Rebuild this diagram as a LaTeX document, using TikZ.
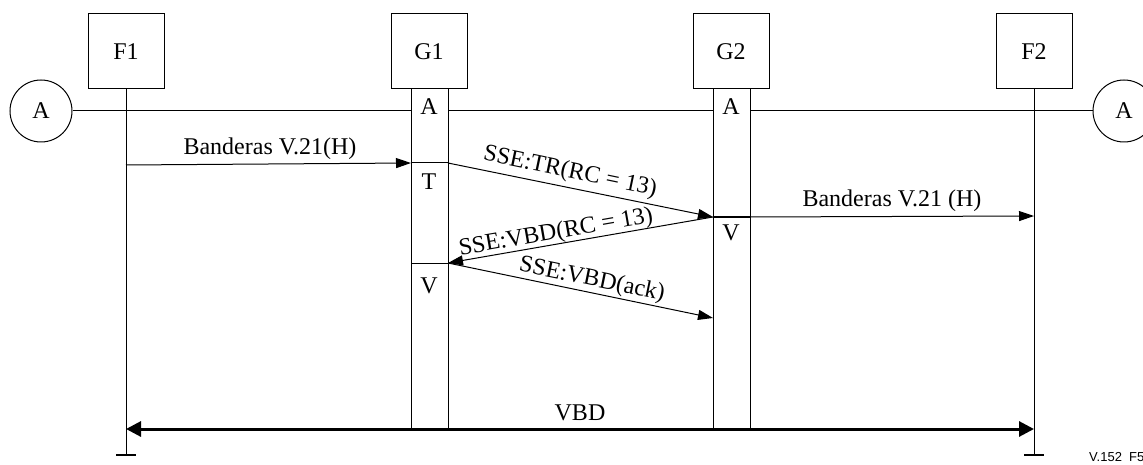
\documentclass[tikz,border=0pt]{standalone}
\usepackage{fontspec}
\setmainfont{Liberation Serif}
\newfontfamily\labsans{Liberation Sans}
\usetikzlibrary{arrows.meta}
\tikzset{
  ent/.style={draw,line width=1pt,minimum width=76pt,minimum height=75pt,inner sep=0pt},
  conn/.style={draw,circle,line width=1pt,minimum size=62pt,inner sep=0pt},
  col/.style={draw,line width=1pt},
  life/.style={line width=1pt},
  msg/.style={line width=1pt,-{Triangle[length=15pt,width=10pt]}},
  lab/.style={inner sep=0pt},
  big/.style={line width=3pt,{Triangle[length=15pt,width=15pt]}-{Triangle[length=15pt,width=15pt]}},
}
\begin{document}
\begin{tikzpicture}[x=1pt,y=-1pt,font=\fontsize{24}{28}\selectfont]
\useasboundingbox (0,0) rectangle (1143,465);
\clip (0,0) rectangle (1143,465);
% entity boxes
\node[ent] (F1) at (126,51.5) {F1};
\node[ent] (G1) at (429,51.5) {G1};
\node[ent] (G2) at (731,51.5) {G2};
\node[ent] (F2) at (1034,51.5) {F2};
% connectors A
\node[conn] (AL) at (41,111) {A};
\node[conn] (AR) at (1124,111) {A};
% columns
\draw[col] (411,89) rectangle (448,429);
\draw[col] (713,89) rectangle (750,429);
\coordinate (g1l) at (411,111);
\coordinate (g1r) at (448,111);
\coordinate (g2l) at (713,111);
\coordinate (g2r) at (750,111);
% line through A
\draw[life] (AL.east) -- (g1l);
\draw[life] (g1r) -- (g2l);
\draw[life] (g2r) -- (AR.west);
% lifelines
\coordinate (f1b) at (126,455);
\coordinate (f2b) at (1034,455);
\draw[life] (F1.south) -- (f1b);
\draw[life] (F2.south) -- (f2b);
\draw[line width=2.5pt] (116,455) -- (136,455);
\draw[line width=2.5pt] (1024,455) -- (1044,455);
% dividers
\draw[line width=1pt] (411,163) -- (448,163);
\draw[line width=1.8pt] (713,217) -- (750,217);
\draw[line width=1pt] (411,263) -- (448,263);
% column labels
\node[lab] at (429,107) {A};
\node[lab] at (731,107) {A};
\node[lab] at (429,182) {T};
\node[lab] at (429,286) {V};
\node[lab] at (731,233) {V};
% message endpoints
\coordinate (f1m) at (126,165);
\coordinate (g1a) at (411,163);
\coordinate (g1b) at (448,163);
\coordinate (g2a) at (713,217);
\coordinate (g2b) at (750,217);
\coordinate (f2m) at (1034,216);
\coordinate (g1c) at (448,263);
\coordinate (g2c) at (713,318);
% messages
\draw[msg] (f1m) -- (g1a);
\node[lab] at (270,149) {Banderas V.21(H)};
\draw[msg] (g1b) -- (g2a);
\node[lab,rotate=-11.8] at (570,172) {SSE:TR(RC = 13)};
\draw[msg] (g2b) -- (f2m);
\node[lab] at (892,201) {Banderas V.21 (H)};
\draw[msg] (g2a) -- (g1c);
\node[lab,rotate=9.9] at (556,233) {SSE:VBD(RC = 13)};
\draw[msg] (g1c) -- (g2c);
\node[lab,rotate=-11.6] at (592,280) {SSE:VBD(ack)};
% VBD
\coordinate (f1v) at (126,429);
\coordinate (f2v) at (1034,429);
\draw[big] (f1v) -- (f2v);
\node[lab] at (580,413) {VBD};
\node[lab,anchor=west,font=\labsans\fontsize{13}{15}\selectfont] at (1089,457) {V.152\ \ F5};
\end{tikzpicture}
\end{document}
